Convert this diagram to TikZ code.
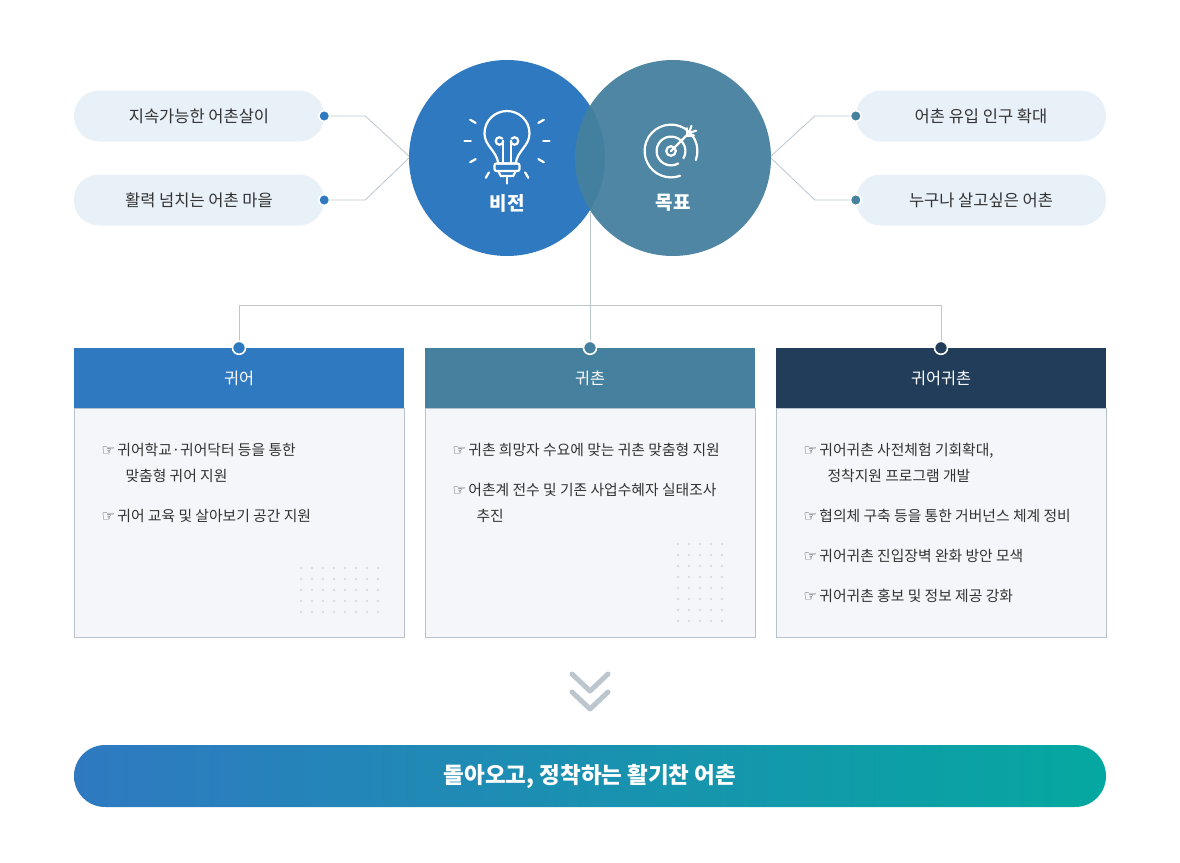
\documentclass[tikz,border=0pt]{standalone}
\usepackage{fontspec}
\setmainfont{Noto Sans CJK KR}
\newfontfamily\symfont{DejaVu Sans}
\usetikzlibrary{positioning, calc, shadings}

\definecolor{visionblue}{HTML}{2F79C1}
\definecolor{goalteal}{HTML}{45809E}
\definecolor{navyhead}{HTML}{213D5A}
\definecolor{pillbg}{HTML}{E8F0F8}
\definecolor{boxbg}{HTML}{F4F6F9}
\definecolor{boxline}{HTML}{B8C2CC}
\definecolor{linkgrey}{HTML}{BCC6CF}
\definecolor{textdark}{HTML}{333333}
\definecolor{endteal}{HTML}{05A8A0}

\tikzset{
	pill/.style={fill=pillbg, rounded corners=25pt, minimum width=250pt, minimum height=51pt, text=textdark, font=\fontsize{16.5}{18}\selectfont},
	headbox/.style={minimum width=330pt, minimum height=60pt, text=white, font=\fontsize{16.3}{18}\selectfont},
	bodybox/.style={fill=boxbg, draw=boxline, minimum width=330pt, minimum height=229pt},
	item/.style={anchor=base west, text=textdark, font=\fontsize{14.8}{18}\selectfont},
	link/.style={draw=linkgrey, line width=0.8pt},
	pin/.style={circle, draw=white, line width=1.6pt, inner sep=0pt, minimum size=11pt},
}
\newcommand{\hand}{{\symfont\fontsize{15}{14}\selectfont ☞}\,}

\begin{document}
\begin{tikzpicture}[x=1pt, y=-1pt]
		\useasboundingbox (0,0) rectangle (1180,862);
		
		% Pills
		\node[pill] (p1) at (199,116) {지속가능한 어촌살이};
		\node[pill] (p2) at (199,200) {활력 넘치는 어촌 마을};
		\node[pill] (p3) at (981,116) {어촌 유입 인구 확대};
		\node[pill] (p4) at (981,200) {누구나 살고싶은 어촌};
		
		% Links to circles
		\coordinate (lj) at (410,157);
		\coordinate (rj) at (770,157);
		\draw[link] (p1.east) -- ++(41,0) -- (lj);
		\draw[link] (p2.east) -- ++(41,0) -- (lj);
		\draw[link] (p3.west) -- ++(-41,0) -- (rj);
		\draw[link] (p4.west) -- ++(-41,0) -- (rj);
		\foreach \p in {p1,p2} \node[pin, fill=visionblue] at (\p.east) {};
		\foreach \p in {p3,p4} \node[pin, fill=goalteal] at (\p.west) {};
		
		% Circles
		\fill[visionblue] (507,158) circle (98);
		\fill[goalteal, opacity=0.95] (673,158) circle (98);
		\node[text=white, font=\fontsize{19}{20}\selectfont\bfseries] (vision) at (507,203) {비전};
		\node[text=white, font=\fontsize{19}{20}\selectfont\bfseries] (goal) at (673,203) {목표};
		
		% Tree to boxes
		\coordinate (split) at (590,305);
		\draw[link] (590,212) -- (split);
		\draw[link] (239,348) -- (239,305) -- (941,305) -- (941,348);
		\draw[link] (split) -- (590,348);
		
		% Bulb icon
		\begin{scope}[white, line width=2.2pt, line cap=round, shift={(507,141)}, scale=1.25]
			\draw (-7,18) .. controls (-8,8) and (-18,4) .. (-18,-6) .. controls (-18,-17) and (-9,-24) .. (0,-24)
				.. controls (9,-24) and (18,-17) .. (18,-6) .. controls (18,4) and (8,8) .. (7,18) -- cycle;
			\draw (-3,18) -- (-3,0) (3,18) -- (3,0);
			\draw (-3,0) arc (0:320:3) (3,0) arc (180:-140:3);
			\draw[rounded corners=2pt] (-10,18) rectangle (10,24);
			\draw (-7,24) -- (-5,28) -- (5,28) -- (7,24);
			\foreach \a in {90,60,30,0,-30,120,150,180,210}
				\draw (\a:29) -- (\a:34);
		\end{scope}
		
		% Target icon
		\begin{scope}[white, line width=2.2pt, line cap=round, shift={(671,151)}, scale=1.2]
			\draw (0,0) circle (4);
			\draw (30:12) arc (30:-300:12);
			\draw (20:22) arc (20:-290:22);
			\draw (0,0) -- (13,-13);
			\draw (13,-13) -- (13,-19) (13,-13) -- (19,-13);
			\draw (15,-15) -- (17,-21) (15,-15) -- (21,-17);
		\end{scope}
		
		% Boxes
		\foreach \n/\x/\c/\t in {a/239/visionblue/귀어, b/590/goalteal/귀촌, c/941/navyhead/귀어귀촌} {
			\node[headbox, fill=\c] (head\n) at (\x,378) {\t};
			\node[bodybox, below=0pt of head\n] (body\n) {};
			\node[pin, fill=\c, minimum size=13pt] at (head\n.north) {};
		}
		
		% Dot patterns
		\foreach \i in {0,...,7} \foreach \j in {0,...,4}
			\fill[linkgrey!60] (301+11*\i,568+11*\j) circle (1.3);
		\foreach \i in {0,...,4} \foreach \j in {0,...,7}
			\fill[linkgrey!60] (678+11*\i,544+11*\j) circle (1.3);
		
		% Items
		\node[item] (a1) at (98,455) {\hand 귀어학교·귀어닥터 등을 통한};
		\node[item] (a2) at (122,481) {맞춤형 귀어 지원};
		\node[item] (a3) at (98,521) {\hand 귀어 교육 및 살아보기 공간 지원};
		\node[item] (b1) at (449,455) {\hand 귀촌 희망자 수요에 맞는 귀촌 맞춤형 지원};
		\node[item] (b2) at (449,495) {\hand 어촌계 전수 및 기존 사업수혜자 실태조사};
		\node[item] (b3) at (473,521) {추진};
		\node[item] (c1) at (800,455) {\hand 귀어귀촌 사전체험 기회확대,};
		\node[item] (c2) at (824,481) {정착지원 프로그램 개발};
		\node[item] (c3) at (800,521) {\hand 협의체 구축 등을 통한 거버넌스 체계 정비};
		\node[item] (c4) at (800,561) {\hand 귀어귀촌 진입장벽 완화 방안 모색};
		\node[item] (c5) at (800,601) {\hand 귀어귀촌 홍보 및 정보 제공 강화};
		
		% Chevrons
		\draw[linkgrey, line width=5pt, line cap=round, line join=round]
			(572,674) -- (590,691) -- (608,674) (572,692) -- (590,709) -- (608,692);
		
		% Result bar
		\shade[left color=visionblue, right color=endteal, rounded corners=31pt] (74,745) rectangle (1106,807);
		\node[text=white, font=\fontsize{22.5}{24}\selectfont\bfseries] (result) at (590,776) {돌아오고, 정착하는 활기찬 어촌};
	\end{tikzpicture}
\end{document}
